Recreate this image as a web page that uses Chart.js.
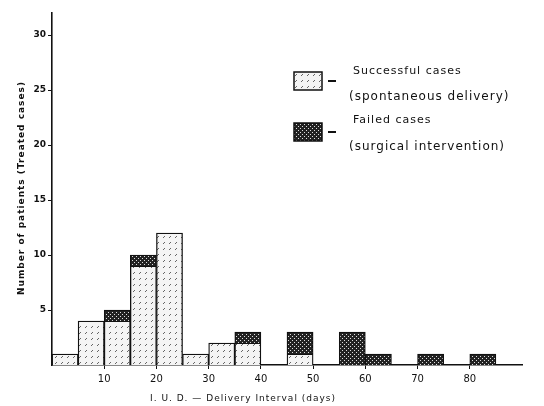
<!DOCTYPE html>
<html><head><meta charset="utf-8">
<script src="https://cdn.jsdelivr.net/npm/chart.js@4"></script>
<style>html,body{margin:0;padding:0;background:#fff}#wrap{width:544px;height:406px;position:relative}</style>
</head><body><div id="wrap"><canvas id="c"></canvas></div>
<script>
const binStarts = [0,5,10,15,20,25,30,35,40,45,50,55,60,65,70,75,80,85];
const successful = [1,4,4,9,12,1,2,2,0,1,0,0,0,0,0,0,0,0];
const failed     = [0,0,1,1,0,0,0,1,0,2,0,3,1,0,1,0,1,0];
const xTicks = [10,20,30,40,50,60,70,80];
const yTicks = [5,10,15,20,25,30];
const binWidth = 5;
const legendLabels = [
  ["Successful cases", "(spontaneous delivery)"],
  ["Failed cases", "(surgical intervention)"]
];
const xTitle = "I. U. D. — Delivery Interval (days)";
const yTitle = "Number of patients (Treated cases)";

function makePattern(kind){
  const c = document.createElement('canvas');
  const s = kind === 'light' ? 6 : 4;
  c.width = s; c.height = s;
  const g = c.getContext('2d');
  if (kind === 'light'){
    g.fillStyle = '#f4f4f4'; g.fillRect(0,0,s,s);
    g.strokeStyle = '#555'; g.lineWidth = 0.9;
    g.beginPath(); g.moveTo(1,4); g.lineTo(3,2); g.stroke();
  } else {
    g.fillStyle = '#222'; g.fillRect(0,0,s,s);
    g.fillStyle = '#ddd';
    g.fillRect(0,0,1,1); g.fillRect(2,2,1,1);
  }
  return g.createPattern(c,'repeat');
}
const lightPat = makePattern('light');
const darkPat = makePattern('dark');

const toPts = arr => binStarts.map((s,i)=>({x: s + binWidth/2, y: arr[i] > 0 ? arr[i] : null}));

const overlay = {
  id:'overlay',
  afterDraw(chart){
    const ctx = chart.ctx;
    ctx.save();
    ctx.fillStyle = '#111';
    ctx.textBaseline = 'alphabetic';
    const boxes = [{y:72, pat:lightPat, t1:2, t2:28},{y:123, pat:darkPat, t1:0, t2:27}];
    boxes.forEach((b,i)=>{
      ctx.fillStyle = b.pat; ctx.fillRect(294,b.y,28,18);
      ctx.strokeStyle='#111'; ctx.lineWidth=1.5; ctx.strokeRect(294,b.y,28,18);
      ctx.fillStyle='#111'; ctx.fillRect(328,b.y+8,8,2);
      ctx.font = '11px "DejaVu Sans"';
      try{ ctx.letterSpacing='1px'; }catch(e){}
      ctx.fillText(legendLabels[i][0], 353, b.y + b.t1);
      ctx.font = '12px "DejaVu Sans"';
      ctx.fillText(legendLabels[i][1], 349, b.y + b.t2);
    });
    ctx.font = '9px "DejaVu Sans"';
    try{ ctx.letterSpacing='1px'; }catch(e){}
    ctx.textAlign='left';
    ctx.fillText(xTitle, 150, 401);
    ctx.translate(24, 188);
    ctx.rotate(-Math.PI/2);
    ctx.textAlign='center';
    ctx.font = 'bold 9px "DejaVu Sans"';
    ctx.fillText(yTitle, 0, 0);
    ctx.restore();
  }
};

new Chart(document.getElementById('c'), {
  type:'bar',
  data:{
    datasets:[
      {label:'Successful cases', data: toPts(successful), backgroundColor: lightPat, borderColor:'#111', borderWidth:1.3, borderSkipped:'bottom', barPercentage:1, categoryPercentage:1},
      {label:'Failed cases', data: toPts(failed), backgroundColor: darkPat, borderColor:'#111', borderWidth:1.3, borderSkipped:'bottom', barPercentage:1, categoryPercentage:1}
    ]
  },
  options:{
    responsive:true, maintainAspectRatio:false, animation:false,
    layout:{padding:{left:0,top:13,right:22,bottom:0}},
    plugins:{legend:{display:false}, tooltip:{enabled:false}},
    scales:{
      x:{type:'linear', min:0, max:90, stacked:true, offset:false,
        afterBuildTicks: s => { s.ticks = xTicks.map(v=>({value:v})); },
        afterFit: s => { s.height = 41; },
        grid:{drawOnChartArea:false, offset:false, tickLength:4, color:'#111', lineWidth:1},
        border:{color:'#111', width:1.6},
        ticks:{color:'#111', padding:4, font:{family:'DejaVu Sans', size:10}, maxRotation:0}
      },
      y:{min:0, max:32, stacked:true,
        afterBuildTicks: s => { s.ticks = yTicks.map(v=>({value:v})); },
        afterFit: s => { s.width = 52; },
        grid:{drawOnChartArea:false, tickLength:4, color:'#111', lineWidth:1},
        border:{color:'#111', width:1.6},
        ticks:{color:'#111', padding:2, font:{family:'DejaVu Sans', size:9, weight:'bold'}}
      }
    }
  },
  plugins:[overlay]
});
</script></body></html>
